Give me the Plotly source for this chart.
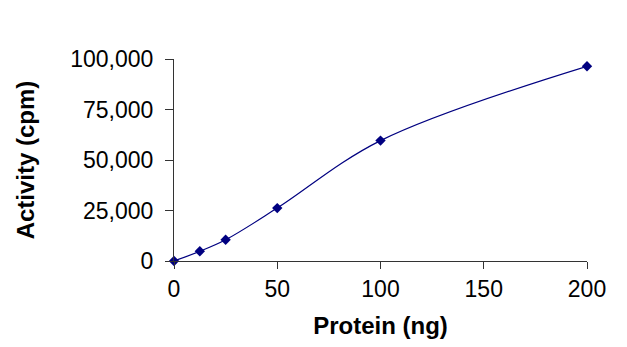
import plotly.graph_objects as go

protein_ng = [0, 12.5, 25, 50, 100, 200]
activity_cpm = [0, 4800, 10500, 26200, 59600, 96400]

x_ticks = [0, 50, 100, 150, 200]
y_ticks = [0, 25000, 50000, 75000, 100000]
y_tick_labels = ["0", "25,000", "50,000", "75,000", "100,000"]

fig = go.Figure()
fig.add_trace(go.Scatter(
    x=protein_ng, y=activity_cpm, mode="lines+markers",
    line=dict(color="#000080", width=1.2, shape="spline", smoothing=1),
    marker=dict(symbol="diamond", size=8, color="#000080"),
    cliponaxis=False, showlegend=False,
))

font_family = "Liberation Sans, Arial, sans-serif"
fig.update_layout(
    width=627, height=347,
    margin=dict(l=174, r=40, t=59, b=86),
    paper_bgcolor="white", plot_bgcolor="white",
    font=dict(family=font_family, color="black"),
    xaxis=dict(
        range=[0, 200], tickvals=x_ticks, ticks="outside", ticklen=7,
        tickcolor="#333", showline=True, linecolor="#333", linewidth=1,
        showgrid=False, zeroline=False, tickfont=dict(size=23),
        title=dict(text="<b>Protein (ng)</b>", font=dict(size=24), standoff=16),
    ),
    yaxis=dict(
        range=[0, 100000], tickvals=y_ticks, ticktext=y_tick_labels,
        ticks="outside", ticklen=8, tickcolor="#333",
        showline=True, linecolor="#333", linewidth=1,
        showgrid=False, zeroline=False, tickfont=dict(size=23),
        ticklabelstandoff=7,
        title=dict(text="<b>Activity (cpm)</b>", font=dict(size=24), standoff=28),
    ),
)

fig.write_html("out.html")
